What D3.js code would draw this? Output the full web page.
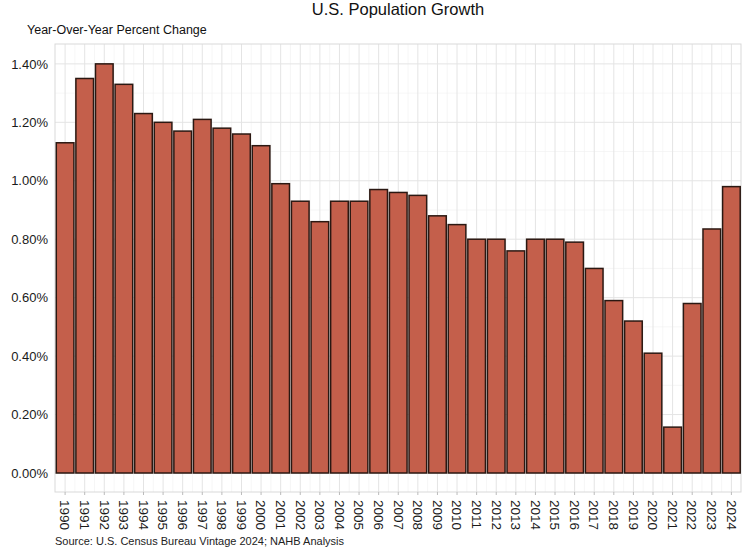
<!DOCTYPE html>
<html>
<head>
<meta charset="utf-8">
<script src="https://cdn.jsdelivr.net/npm/d3@7"></script>
<style>
  body { margin: 0; background: #fff; }
  svg { font-family: "Liberation Sans", Arial, sans-serif; }
</style>
</head>
<body>
<div id="chart"></div>
<script>
// data
const years = ["1990","1991","1992","1993","1994","1995","1996","1997","1998","1999",
  "2000","2001","2002","2003","2004","2005","2006","2007","2008","2009",
  "2010","2011","2012","2013","2014","2015","2016","2017","2018","2019",
  "2020","2021","2022","2023","2024"];
const growth = [1.13, 1.35, 1.40, 1.33, 1.23, 1.20, 1.17, 1.21, 1.18, 1.16,
  1.12, 0.99, 0.93, 0.86, 0.93, 0.93, 0.97, 0.96, 0.95, 0.88,
  0.85, 0.80, 0.80, 0.76, 0.80, 0.80, 0.79, 0.70, 0.59, 0.52,
  0.41, 0.157, 0.58, 0.835, 0.98];
const yTicks = [0, 0.2, 0.4, 0.6, 0.8, 1.0, 1.2, 1.4];

const width = 748, height = 551;
const margin = { top: 44, right: 7, bottom: 59, left: 55 };

const data = years.map((y, i) => ({ year: y, value: growth[i] }));

const svg = d3.select("#chart").append("svg")
    .attr("width", width)
    .attr("height", height);

const x = d3.scaleBand().domain(years)
    .range([margin.left + 0.5, width - margin.right])
    .paddingInner(0.1)
    .paddingOuter(0.04);

const y = d3.scaleLinear().domain([-0.065, 1.468])
    .range([height - margin.bottom, margin.top]);

// minor grid
const minorY = d3.range(0.1, 1.5, 0.2);
svg.append("g").selectAll("line")
  .data(minorY)
  .join("line")
    .attr("x1", margin.left).attr("x2", width - margin.right)
    .attr("y1", d => y(d)).attr("y2", d => y(d))
    .attr("stroke", "#f0f0f0").attr("stroke-width", 0.6);

svg.append("g").selectAll("line")
  .data(years.slice(1))
  .join("line")
    .attr("x1", d => x(d) - x.step() * x.paddingInner() / 2)
    .attr("x2", d => x(d) - x.step() * x.paddingInner() / 2)
    .attr("y1", margin.top).attr("y2", height - margin.bottom)
    .attr("stroke", "#f0f0f0").attr("stroke-width", 0.6);

// major grid
svg.append("g").selectAll("line")
  .data(yTicks)
  .join("line")
    .attr("x1", margin.left).attr("x2", width - margin.right)
    .attr("y1", d => y(d)).attr("y2", d => y(d))
    .attr("stroke", "#e4e4e4").attr("stroke-width", 1);

svg.append("g").selectAll("line")
  .data(years)
  .join("line")
    .attr("x1", d => x(d) + x.bandwidth() / 2)
    .attr("x2", d => x(d) + x.bandwidth() / 2)
    .attr("y1", margin.top).attr("y2", height - margin.bottom)
    .attr("stroke", "#e4e4e4").attr("stroke-width", 1);

// panel border
svg.append("rect")
    .attr("x", margin.left).attr("y", margin.top)
    .attr("width", width - margin.right - margin.left)
    .attr("height", height - margin.bottom - margin.top)
    .attr("fill", "none")
    .attr("stroke", "#d9d9d9");

// bars
svg.append("g").selectAll("rect")
  .data(data)
  .join("rect")
    .attr("x", d => x(d.year))
    .attr("y", d => y(d.value))
    .attr("width", x.bandwidth())
    .attr("height", d => y(0) - y(d.value))
    .attr("fill", "#c45f4b")
    .attr("stroke", "#2b1812")
    .attr("stroke-width", 1.5);

// axes
const xAxis = g => g
    .attr("transform", `translate(0,${height - margin.bottom})`)
    .call(d3.axisBottom(x).tickSizeOuter(0).tickSize(3).tickPadding(4))
    .call(g => g.select(".domain").remove())
    .call(g => g.selectAll(".tick line").attr("stroke", "#bbbbbb"));

svg.append("g")
    .call(xAxis)
    .selectAll("text")
    .attr("transform", "rotate(90)")
    .attr("x", 8)
    .attr("y", 0)
    .attr("dy", "0.35em")
    .style("text-anchor", "start")
    .attr("font-size", 13.5)
    .attr("fill", "#1a1a1a");

const yAxis = g => g
    .attr("transform", `translate(${margin.left},0)`)
    .call(d3.axisLeft(y).tickValues(yTicks).tickSize(0).tickPadding(7)
      .tickFormat(d => d3.format(".2f")(d) + "%"))
    .call(g => g.select(".domain").remove());

svg.append("g")
    .call(yAxis)
    .selectAll("text")
    .attr("font-size", 13)
    .attr("fill", "#1a1a1a");

// titles
svg.append("text")
    .attr("x", 398).attr("y", 15)
    .attr("text-anchor", "middle")
    .attr("font-size", 16.5)
    .attr("fill", "#111")
    .text("U.S. Population Growth");

svg.append("text")
    .attr("x", 27).attr("y", 34)
    .attr("font-size", 12.5)
    .attr("fill", "#111")
    .text("Year-Over-Year Percent Change");

svg.append("text")
    .attr("x", 55).attr("y", 545)
    .attr("font-size", 11)
    .attr("fill", "#222")
    .text("Source: U.S. Census Bureau Vintage 2024; NAHB Analysis");
</script>
</body>
</html>
